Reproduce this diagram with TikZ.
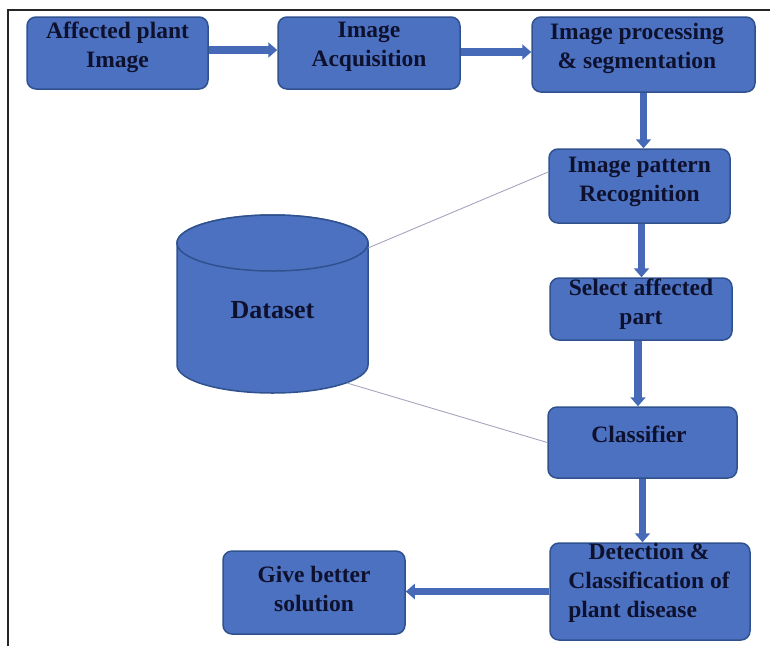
\documentclass[tikz,border=0pt]{standalone}
\usepackage{fontspec}
\setmainfont{Liberation Serif}
\usetikzlibrary{arrows.meta,calc}
\definecolor{boxfill}{RGB}{76,113,192}
\definecolor{boxedge}{RGB}{47,82,143}
\definecolor{arrowcol}{RGB}{70,106,184}
\definecolor{txtcol}{RGB}{14,17,45}
\definecolor{linkcol}{RGB}{165,165,192}
\begin{document}
\begin{tikzpicture}[x=1pt,y=1pt,
  flowbox/.style={draw=boxedge, fill=boxfill, line width=1.5pt, rounded corners=9pt, inner sep=0pt},
  flowtxt/.style={text=txtcol, font=\fontsize{23.5}{29}\selectfont\bfseries, align=center, inner sep=0pt},
  flowarrow/.style={draw=arrowcol, line width=7.5pt, -{Triangle[width=15pt,length=9pt]}},
  linkline/.style={draw=linkcol, line width=0.9pt},
  dbshape/.style={draw=boxedge, fill=boxfill, line width=1.5pt},
  frameline/.style={draw=black!85, line width=1.3pt}
]
\useasboundingbox (0,0) rectangle (770,-646);
\draw[frameline] (8,-646) -- (8,-10) -- (770,-10);

% boxes
\node[flowbox, minimum width=181pt, minimum height=72pt] (a1) at (117.5,-53) {};
\node[flowtxt] (t1) at (117.5,-47) {Affected plant\\Image};

\node[flowbox, minimum width=182pt, minimum height=72pt] (a2) at (369,-53) {};
\node[flowtxt] (t2) at (369,-47) {Image\\Acquisition};

\node[flowbox, minimum width=223pt, minimum height=75pt] (a3) at (643.5,-54.5) {};
\node[flowtxt] (t3) at (637,-48) {Image processing\\\& segmentation};

\node[flowbox, minimum width=181pt, minimum height=74pt] (a4) at (639.5,-186) {};
\node[flowtxt] (t4) at (639.5,-182) {Image pattern\\Recognition};

\node[flowbox, minimum width=182pt, minimum height=62pt] (a5) at (641,-309) {};
\node[flowtxt] (t5) at (641,-304) {Select affected\\part};

\node[flowbox, minimum width=189pt, minimum height=71pt] (a6) at (642.5,-442.5) {};
\node[flowtxt] (t6) at (639,-434) {Classifier};

\node[flowbox, minimum width=200pt, minimum height=97pt] (a7) at (650,-591.5) {};
\node[flowtxt] (t7) at (649,-583) {\begin{tabular}{@{}l@{}}\multicolumn{1}{@{}c@{}}{Detection \&}\\Classification of\\plant disease\end{tabular}};

\node[flowbox, minimum width=182pt, minimum height=83pt] (a8) at (314,-592.5) {};
\node[flowtxt] (t8) at (314,-589) {Give better\\solution};

% dataset cylinder
\filldraw[dbshape] (177,-243) -- (177,-365)
  arc[start angle=180, end angle=360, x radius=95.5, y radius=28]
  -- (368,-243)
  arc[start angle=0, end angle=180, x radius=95.5, y radius=28] -- cycle;
\filldraw[dbshape] (272.5,-243) ellipse [x radius=95.5, y radius=28];
\node[flowtxt, font=\fontsize{26}{30}\selectfont\bfseries] (db) at (272.5,-310) {Dataset};
\coordinate (dbr) at (368,-248);
\coordinate (dbb) at (347,-383);

% links from dataset
\draw[linkline] (dbr) -- ([yshift=14pt]a4.west);
\draw[linkline] (dbb) -- (a6.west);

% arrows
\draw[flowarrow] ([yshift=3pt]a1.east) -- ([yshift=3pt]a1.east -| a2.west);
\draw[flowarrow] ([yshift=1pt]a2.east) -- ([yshift=1pt]a2.east -| a3.west);
\draw[flowarrow] (a3.south) -- (a3.south |- a4.north);
\draw[flowarrow] ([xshift=2pt]a4.south) -- ([xshift=2pt]a4.south |- a5.north);
\draw[flowarrow] ([xshift=-3pt]a5.south) -- ([xshift=-3pt]a5.south |- a6.north);
\draw[flowarrow] (a6.south) -- (a6.south |- a7.north);
\draw[flowarrow] (a7.west) -- (a7.west -| a8.east);
\end{tikzpicture}
\end{document}
